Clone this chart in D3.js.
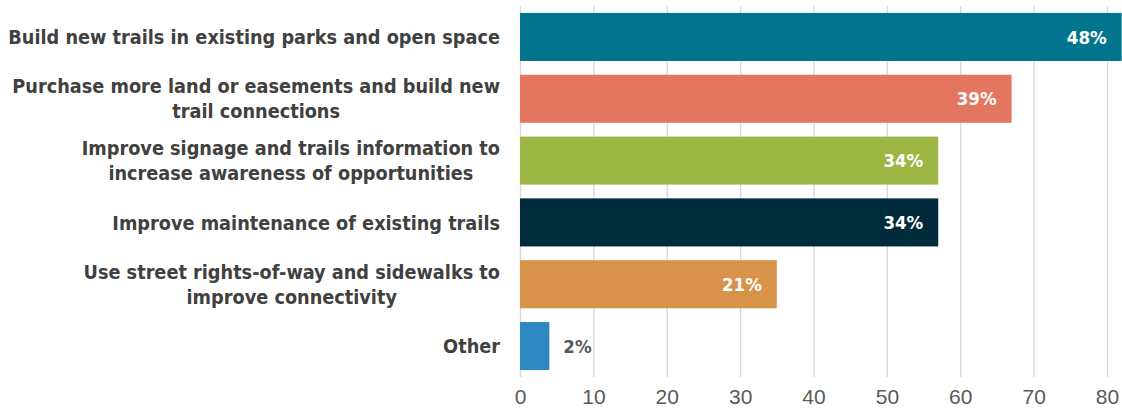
<!DOCTYPE html>
<html>
<head>
<meta charset="utf-8">
<script src="https://cdn.jsdelivr.net/npm/d3@7"></script>
<style>
  html, body { margin: 0; padding: 0; background: #fff; }
  svg { display: block; }
</style>
</head>
<body>
<svg id="chart" width="1122" height="415"></svg>
<script>
const categories = [
  ["Build new trails in existing parks and open space"],
  ["Purchase more land or easements and build new", "trail connections"],
  ["Improve signage and trails information to", "increase awareness of opportunities"],
  ["Improve maintenance of existing trails"],
  ["Use street rights-of-way and sidewalks to", "improve connectivity"],
  ["Other"]
];
const values = [82, 67, 57, 57, 35, 4];
const percentLabels = ["48%", "39%", "34%", "34%", "21%", "2%"];
const colors = ["#00758D", "#E4765F", "#9DB643", "#002B3B", "#D9924A", "#2E89C2"];
const tickValues = [0, 10, 20, 30, 40, 50, 60, 70, 80];

(function () {
const svg = d3.select("#chart");
const mLeft = 520, mRight = 1107, mTop = 6, mBottom = 377;

const x = d3.scaleLinear().domain([0, 80]).range([mLeft, mRight]);
const y = d3.scaleBand().domain(d3.range(categories.length)).range([mTop, mBottom])
  .paddingInner(0.223).paddingOuter(0.112);

// gridlines + axis
const axis = d3.axisBottom(x).tickValues(tickValues).tickSize(-(mBottom - mTop)).tickPadding(12);
const gAxis = svg.append("g").attr("transform", `translate(0,${mBottom})`).call(axis);
gAxis.select(".domain").remove();
gAxis.selectAll(".tick line").attr("stroke", "#d9d9d9").attr("stroke-width", 1.4);
gAxis.selectAll(".tick text")
  .attr("fill", "#595959")
  .style("font-family", "'Liberation Sans Narrow', 'Liberation Sans', sans-serif")
  .style("font-size", "21px");

// bars
svg.append("g").selectAll("rect").data(values).join("rect")
  .attr("x", x(0))
  .attr("y", (d, i) => y(i))
  .attr("width", d => x(d) - x(0))
  .attr("height", y.bandwidth())
  .attr("fill", (d, i) => colors[i]);

// value labels
const labelFont = "'DejaVu Sans Condensed', 'DejaVu Sans', sans-serif";
svg.append("g").selectAll("text").data(values).join("text")
  .attr("x", d => d > 10 ? x(d) - 15 : x(d) + 14)
  .attr("y", (d, i) => y(i) + y.bandwidth() / 2)
  .attr("dy", "0.36em")
  .attr("text-anchor", d => d > 10 ? "end" : "start")
  .attr("fill", d => d > 10 ? "#ffffff" : "#595959")
  .style("font-family", labelFont)
  .style("font-weight", "bold")
  .style("font-size", "18.5px")
  .text((d, i) => percentLabels[i]);

// category labels
const catG = svg.append("g");
const labelSize = 19.7, lineH = 25, labelRight = 500;
categories.forEach((lines, i) => {
  const cy = y(i) + y.bandwidth() / 2;
  const t = catG.append("text")
    .attr("fill", "#404040")
    .style("font-family", labelFont)
    .style("font-weight", "bold")
    .style("font-size", labelSize + "px")
    .attr("text-anchor", "middle");
  const spans = lines.map((ln, k) => t.append("tspan")
    .attr("y", cy + (k - (lines.length - 1) / 2) * lineH)
    .attr("dy", "0.36em")
    .text(ln));
  let maxW = 0;
  spans.forEach(s => { maxW = Math.max(maxW, s.node().getComputedTextLength()); });
  spans.forEach(s => s.attr("x", labelRight - maxW / 2));
});
})();
</script>
</body>
</html>
